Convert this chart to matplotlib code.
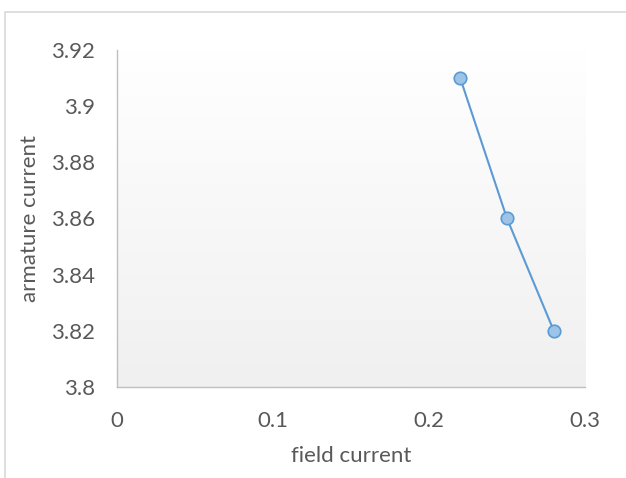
import numpy as np
import matplotlib
matplotlib.use("Agg")
import matplotlib.pyplot as plt
from matplotlib.patches import Rectangle

plt.rcParams['font.family'] = ['Lato', 'DejaVu Sans']

field_current = [0.22, 0.25, 0.28]
armature_current = [3.91, 3.86, 3.82]
x_ticks = [0, 0.1, 0.2, 0.3]
y_ticks = [3.8, 3.82, 3.84, 3.86, 3.88, 3.9, 3.92]
y_tick_labels = ["3.8", "3.82", "3.84", "3.86", "3.88", "3.9", "3.92"]

text_color = "#595959"
axis_color = "#bfbfbf"

fig = plt.figure(figsize=(6.26, 4.78), dpi=100)
fig.patch.set_facecolor("white")

# chart area border (runs off the right and bottom edges)
fig.patches.append(Rectangle((5 / 626, -0.05), 1.1, 1 - 12 / 478 + 0.05,
                             transform=fig.transFigure, fill=False,
                             edgecolor="#d9d9d9", linewidth=1.2))

ax = fig.add_axes([117 / 626, 1 - 387 / 478, (585 - 117) / 626, (387 - 50) / 478])
ax.set_facecolor("none")

# plot area gradient, white at the top to light grey at the bottom
grad = np.linspace(0, 1, 256).reshape(-1, 1)
top = np.array([1.0, 1.0, 1.0])
bottom = np.array([0xf0, 0xf0, 0xf0]) / 255
img = top + (bottom - top) * grad[..., None]
ax.imshow(img, extent=[0, 0.3, 3.8, 3.92], aspect="auto", origin="upper", zorder=0)

ax.plot(field_current, armature_current, color="#5b9bd5", linewidth=1.5,
        marker="o", markersize=9, markerfacecolor="#9dc3e6",
        markeredgecolor="#5b9bd5", markeredgewidth=1.2, zorder=3)

ax.set_xlim(0, 0.3)
ax.set_ylim(3.8, 3.92)
ax.set_xticks(x_ticks)
ax.set_xticklabels(["0", "0.1", "0.2", "0.3"])
ax.set_yticks(y_ticks)
ax.set_yticklabels(y_tick_labels)

for side in ("top", "right"):
    ax.spines[side].set_visible(False)
for side in ("left", "bottom"):
    ax.spines[side].set_color(axis_color)
    ax.spines[side].set_linewidth(1.0)

ax.tick_params(axis="both", length=0, labelsize=16, colors=text_color)
ax.tick_params(axis="y", pad=16)
ax.tick_params(axis="x", pad=17)

ax.set_xlabel("field current", fontsize=16, color=text_color, labelpad=11)
ax.set_ylabel("armature current", fontsize=16, color=text_color, labelpad=8)

fig.savefig("out.png", dpi=100)
